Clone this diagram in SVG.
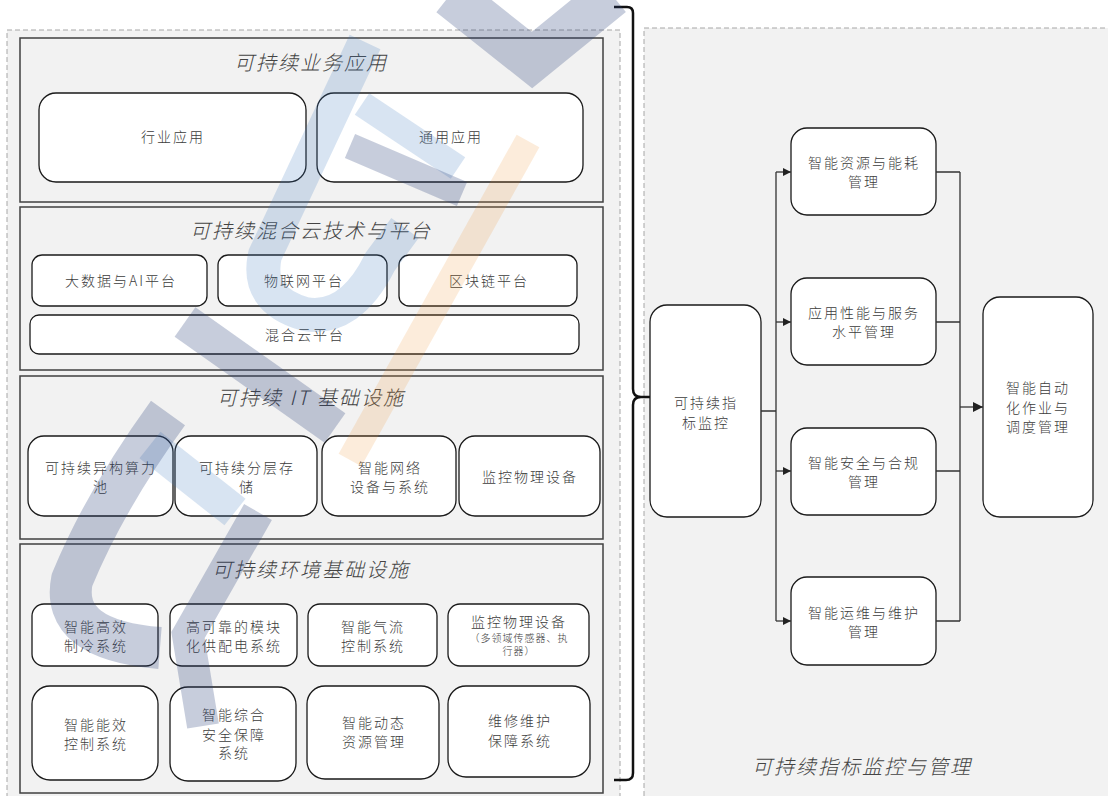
<svg xmlns="http://www.w3.org/2000/svg" width="1108" height="796" viewBox="0 0 1108 796">
<defs>
<style>
.cont{fill:#f2f2f2;stroke:#a6a6a6;stroke-width:1;stroke-dasharray:5,3}
.sec{fill:#f2f2f2;stroke:#404040;stroke-width:1.5}
.box{fill:#ffffff;stroke:#1a1a1a;stroke-width:1.3}
.t{font-family:"Noto Sans CJK SC","Liberation Sans",sans-serif;font-size:14px;font-weight:300;fill:#3c3c3c;text-anchor:middle;letter-spacing:2px}
.s{font-size:10px;letter-spacing:1px}
.h{font-family:"Noto Sans CJK SC","Liberation Sans",sans-serif;font-size:20px;font-weight:300;fill:#444;text-anchor:middle;font-style:italic;letter-spacing:2px}
.ln{fill:none;stroke:#333;stroke-width:1.3}
.wd{fill:none;stroke:#283c78;stroke-opacity:0.26}
.wl{fill:none;stroke:#3c78be;stroke-opacity:0.2}
.wo{fill:none;stroke:#f08c28;stroke-opacity:0.17}
</style>
<marker id="ah" viewBox="0 0 10 10" refX="10" refY="5" markerWidth="8" markerHeight="8" markerUnits="userSpaceOnUse" orient="auto"><path d="M0,0 L10,5 L0,10 z" fill="#222"/></marker>
<marker id="ah2" viewBox="0 0 10 10" refX="10" refY="5" markerWidth="10" markerHeight="10" markerUnits="userSpaceOnUse" orient="auto"><path d="M0,0 L10,5 L0,10 z" fill="#222"/></marker>
</defs>
<rect width="1108" height="796" fill="#ffffff"/>
<g id="left-container">
<rect class="cont" x="7" y="30" width="613" height="775"/>
</g>
<g id="right-container">
<rect class="cont" x="644" y="28" width="480" height="780"/>
<text class="h" x="862" y="774">可持续指标监控与管理</text>
</g>
<g id="sec-app">
<rect class="sec" x="20" y="38" width="583" height="164"/>
<text class="h" x="311" y="70">可持续业务应用</text>
</g>
<g id="n-hangye"><rect class="box" x="39" y="93" width="267" height="89" rx="17"/><text class="t" x="173" y="142">行业应用</text></g>
<g id="n-tongyong"><rect class="box" x="317" y="93" width="266" height="89" rx="17"/><text class="t" x="451" y="142">通用应用</text></g>
<g id="sec-cloud">
<rect class="sec" x="20" y="207" width="583" height="163"/>
<text class="h" x="311" y="238">可持续混合云技术与平台</text>
</g>
<g id="n-bigdata"><rect class="box" x="32" y="255" width="175" height="51" rx="10"/><text class="t" x="121" y="286">大数据与AI平台</text></g>
<g id="n-iot"><rect class="box" x="218" y="255" width="169" height="51" rx="10"/><text class="t" x="304" y="286">物联网平台</text></g>
<g id="n-chain"><rect class="box" x="399" y="255" width="178" height="51" rx="10"/><text class="t" x="489" y="286">区块链平台</text></g>
<g id="n-hybrid"><rect class="box" x="30" y="315" width="549" height="39" rx="9"/><text class="t" x="305" y="340">混合云平台</text></g>
<g id="sec-it">
<rect class="sec" x="20" y="376" width="583" height="163"/>
<text class="h" x="311" y="405" xml:space="preserve">可持续 IT 基础设施</text>
</g>
<g id="n-compute"><rect class="box" x="28" y="436" width="145" height="80" rx="16"/><text class="t" x="101" y="473">可持续异构算力</text><text class="t" x="101" y="492">池</text></g>
<g id="n-storage"><rect class="box" x="175" y="436" width="142" height="80" rx="16"/><text class="t" x="247" y="473">可持续分层存</text><text class="t" x="247" y="492">储</text></g>
<g id="n-network"><rect class="box" x="322" y="436" width="134" height="80" rx="16"/><text class="t" x="390" y="473">智能网络</text><text class="t" x="390" y="492">设备与系统</text></g>
<g id="n-monitor1"><rect class="box" x="459" y="436" width="141" height="80" rx="16"/><text class="t" x="530" y="482">监控物理设备</text></g>
<g id="sec-env">
<rect class="sec" x="20" y="544" width="583" height="249"/>
<text class="h" x="311" y="577">可持续环境基础设施</text>
</g>
<g id="n-cooling"><rect class="box" x="32" y="604" width="126" height="62" rx="12"/><text class="t" x="96" y="632">智能高效</text><text class="t" x="96" y="651">制冷系统</text></g>
<g id="n-power"><rect class="box" x="170" y="604" width="127" height="62" rx="12"/><text class="t" x="234" y="632">高可靠的模块</text><text class="t" x="234" y="651">化供配电系统</text></g>
<g id="n-airflow"><rect class="box" x="308" y="604" width="129" height="62" rx="12"/><text class="t" x="373" y="632">智能气流</text><text class="t" x="373" y="651">控制系统</text></g>
<g id="n-monitor2"><rect class="box" x="448" y="604" width="141" height="62" rx="12"/><text class="t" x="519" y="627">监控物理设备</text><text class="t s" x="519" y="642">（多领域传感器、执</text><text class="t s" x="519" y="655">行器）</text></g>
<g id="n-energy"><rect class="box" x="32" y="686" width="126" height="94" rx="18"/><text class="t" x="96" y="730">智能能效</text><text class="t" x="96" y="749">控制系统</text></g>
<g id="n-security"><rect class="box" x="170" y="687" width="126" height="94" rx="18"/><text class="t" x="234" y="720">智能综合</text><text class="t" x="234" y="740">安全保障</text><text class="t" x="234" y="758">系统</text></g>
<g id="n-dynamic"><rect class="box" x="307" y="686" width="132" height="93" rx="18"/><text class="t" x="374" y="728">智能动态</text><text class="t" x="374" y="747">资源管理</text></g>
<g id="n-maint"><rect class="box" x="448" y="686" width="142" height="91" rx="18"/><text class="t" x="520" y="726">维修维护</text><text class="t" x="520" y="746">保障系统</text></g>
<g id="brace">
<path d="M614 7 L627 7 Q633 7 633 13 L633 389 Q633 397 641 397 L653 397 M641 397 Q633 397 633 405 L633 773 Q633 780 626 780 L614 780" fill="none" stroke="#111" stroke-width="2.5"/>
</g>
<g id="n-index"><rect class="box" x="650" y="305" width="111" height="212" rx="17"/><text class="t" x="706" y="408">可持续指</text><text class="t" x="706" y="428">标监控</text></g>
<g id="n-res"><rect class="box" x="791" y="128" width="145" height="87" rx="16"/><text class="t" x="864" y="168">智能资源与能耗</text><text class="t" x="864" y="187">管理</text></g>
<g id="n-perf"><rect class="box" x="791" y="278" width="145" height="87" rx="16"/><text class="t" x="864" y="318">应用性能与服务</text><text class="t" x="864" y="337">水平管理</text></g>
<g id="n-sec"><rect class="box" x="791" y="428" width="145" height="87" rx="16"/><text class="t" x="864" y="468">智能安全与合规</text><text class="t" x="864" y="487">管理</text></g>
<g id="n-ops"><rect class="box" x="791" y="577" width="145" height="88" rx="16"/><text class="t" x="864" y="618">智能运维与维护</text><text class="t" x="864" y="637">管理</text></g>
<g id="n-auto"><rect class="box" x="983" y="297" width="110" height="220" rx="17"/><text class="t" x="1038" y="393">智能自动</text><text class="t" x="1038" y="413">化作业与</text><text class="t" x="1038" y="432">调度管理</text></g>
<g id="connectors">
<path class="ln" d="M761 411 H776 M776 172 V621 M936 172 H960 M936 322 H960 M936 471 H960 M936 621 H960 M960 172 V621"/>
<path class="ln" d="M776 172 H791" marker-end="url(#ah)"/>
<path class="ln" d="M776 322 H791" marker-end="url(#ah)"/>
<path class="ln" d="M776 471 H791" marker-end="url(#ah)"/>
<path class="ln" d="M776 621 H791" marker-end="url(#ah)"/>
<path class="ln" d="M960 407 H983" stroke-width="2.2" marker-end="url(#ah2)"/>
</g>
<g id="watermark">
<path class="wd" d="M450 -5 L532 60 L612 -5" stroke-width="44"/>
<path class="wl" d="M365 42 L265 255 Q255 300 305 314 Q350 322 380 262 L405 228" stroke-width="34"/>
<path class="wl" d="M362 104 L458 168" stroke-width="26"/>
<path class="wd" d="M350 146 L462 194" stroke-width="26"/>
<path class="wd" d="M185 322 L335 428" stroke-width="36"/>
<path class="wl" d="M150 445 L235 512" stroke-width="34"/>
<path class="wd" d="M168 413 Q105 500 72 580 Q60 640 160 648" stroke-width="42"/>
<path class="wd" d="M258 512 L188 635 L203 726" stroke-width="32"/>
<path class="wo" d="M528 141 L350 460" stroke-width="26"/>
</g>
</svg>
